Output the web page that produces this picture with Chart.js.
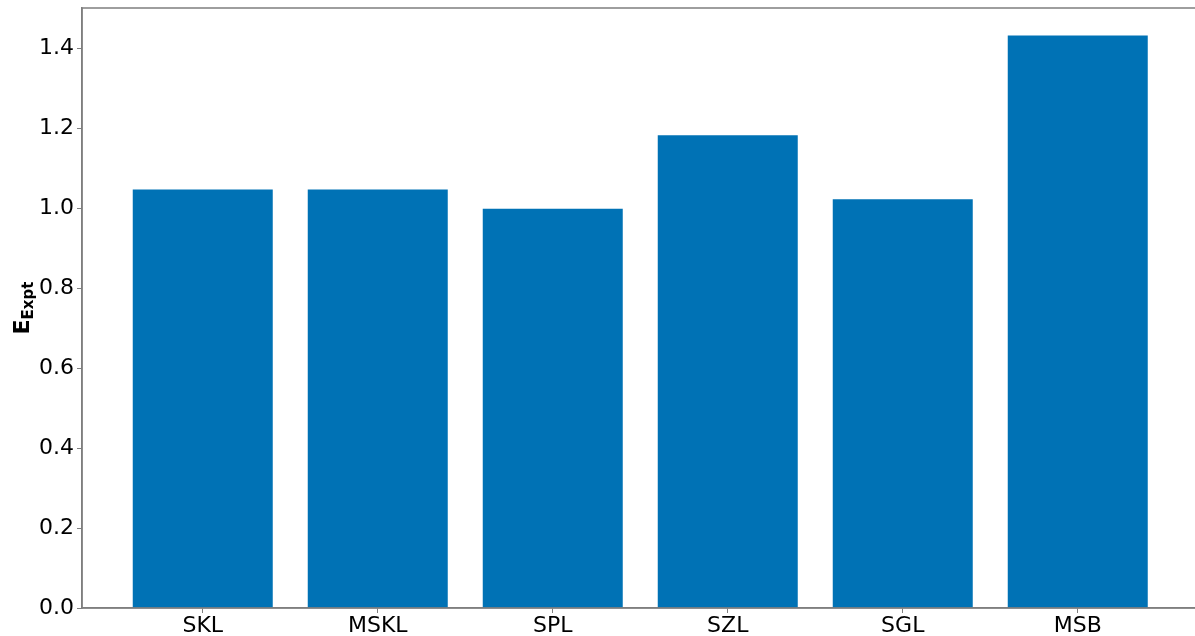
<!DOCTYPE html>
<html>
<head>
<meta charset="utf-8">
<script src="https://cdn.jsdelivr.net/npm/chart.js@4/dist/chart.umd.min.js"></script>
<style>
  html, body { margin: 0; padding: 0; background: #fff; overflow: hidden; }
  #wrap { width: 1200px; height: 636px; }
</style>
</head>
<body>
<div id="wrap"><canvas id="barChart" width="1200" height="636"></canvas></div>
<script>
// dados
const categorias = ["SKL", "MSKL", "SPL", "SZL", "SGL", "MSB"];
const valores = [1.046, 1.046, 0.998, 1.182, 1.022, 1.431];
const yTicks = [0.0, 0.2, 0.4, 0.6, 0.8, 1.0, 1.2, 1.4];

const corBarra = '#0072B5';
const corEixo = '#7f7f7f';
const fonte = { family: 'DejaVu Sans', size: 22 };

// moldura superior/direita (como no matplotlib)
const moldura = {
    id: 'moldura',
    afterDatasetsDraw(chart) {
        const { ctx, chartArea: a } = chart;
        ctx.save();
        ctx.strokeStyle = corEixo;
        ctx.lineWidth = 1.5;
        ctx.strokeRect(a.left, a.top, a.right - a.left, a.bottom - a.top);
        ctx.restore();
    }
};

// título do eixo y com subscrito
const tituloY = {
    id: 'tituloY',
    afterDraw(chart) {
        const { ctx, chartArea: a } = chart;
        ctx.save();
        ctx.translate(29, (a.top + a.bottom) / 2);
        ctx.rotate(-Math.PI / 2);
        ctx.fillStyle = '#000';
        ctx.textBaseline = 'alphabetic';
        ctx.font = 'bold 22px "DejaVu Sans"';
        const wE = ctx.measureText('E').width;
        ctx.font = 'bold 15px "DejaVu Sans"';
        const wSub = ctx.measureText('Expt').width;
        const x0 = -(wE + wSub) / 2;
        ctx.font = 'bold 22px "DejaVu Sans"';
        ctx.fillText('E', x0, 0);
        ctx.font = 'bold 15px "DejaVu Sans"';
        ctx.fillText('Expt', x0 + wE, 4);
        ctx.restore();
    }
};

new Chart(document.getElementById('barChart'), {
    type: 'bar',
    data: {
        datasets: [{
            data: valores.map((v, i) => ({ x: i, y: v })),
            backgroundColor: corBarra,
            borderWidth: 0,
            barPercentage: 0.8,
            categoryPercentage: 1.0
        }]
    },
    options: {
        responsive: false,
        animation: false,
        layout: { padding: { top: 8, right: 1.5, left: 0, bottom: 0 } },
        plugins: {
            legend: { display: false },
            tooltip: { enabled: false }
        },
        scales: {
            x: {
                type: 'linear',
                min: -0.69,
                max: 5.69,
                offset: false,
                afterBuildTicks: s => { s.ticks = categorias.map((c, i) => ({ value: i })); },
                afterFit: s => { s.height = 28; s.paddingLeft = 0; s.paddingRight = 0; },
                ticks: {
                    font: fonte,
                    color: '#000',
                    padding: 0,
                    maxRotation: 0,
                    autoSkip: false,
                    callback: v => categorias[v]
                },
                grid: { display: true, offset: false, drawOnChartArea: false, drawTicks: true, tickLength: 5, color: corEixo },
                border: { color: corEixo, width: 1.5 }
            },
            y: {
                min: 0,
                max: 1.5,
                afterBuildTicks: s => { s.ticks = yTicks.map(v => ({ value: v })); },
                afterFit: s => { s.width = 82; s.paddingTop = 0; s.paddingBottom = 0; },
                ticks: {
                    font: fonte,
                    color: '#000',
                    padding: 3,
                    callback: v => Number(v).toFixed(1)
                },
                grid: { display: true, drawOnChartArea: false, drawTicks: true, tickLength: 5, color: corEixo },
                border: { color: corEixo, width: 1.5 }
            }
        }
    },
    plugins: [moldura, tituloY]
});
</script>
</body>
</html>
